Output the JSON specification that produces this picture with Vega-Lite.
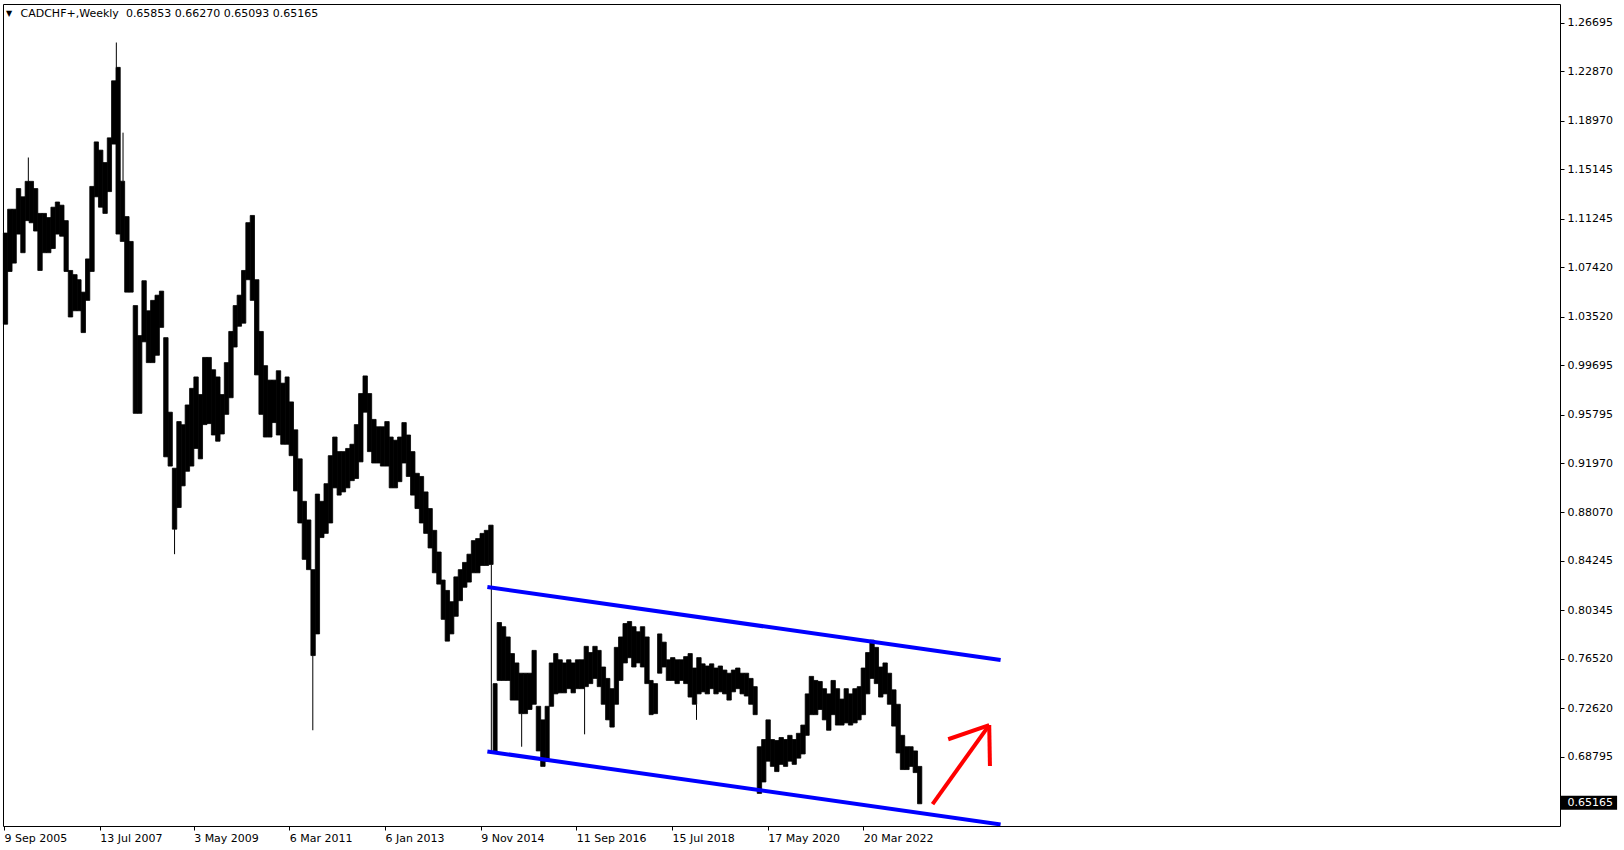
{
"$schema": "https://vega.github.io/schema/vega-lite/v6.json",
"width": 1557, "height": 822,
"autosize": {"type": "none"},
"padding": {"left": 3, "top": 4, "right": 64, "bottom": 24},
"background": "white",
"config": {"view": {"stroke": "black", "strokeWidth": 1}, "font": "DejaVu Sans"},
"datasets": {
"bars": [
{"d":"2005-09","hi":1.1011,"lo":1.0292},{"d":"2005-10","hi":1.1199,"lo":1.0708},{"d":"2005-11","hi":1.1199,"lo":1.0774},{"d":"2005-12","hi":1.1362,"lo":1.1003},
{"d":"2006-01","hi":1.1297,"lo":1.0856},{"d":"2006-02","hi":1.1419,"lo":1.1109},{"d":"2006-03","hi":1.1419,"lo":1.1092},{"d":"2006-04","hi":1.1362,"lo":1.1027},
{"d":"2006-05","hi":1.1166,"lo":1.0716},{"d":"2006-06","hi":1.1166,"lo":1.0856},{"d":"2006-07","hi":1.1133,"lo":1.0856},{"d":"2006-08","hi":1.1215,"lo":1.0889},
{"d":"2006-09","hi":1.1256,"lo":1.1003},{"d":"2006-10","hi":1.1231,"lo":1.0986},{"d":"2006-11","hi":1.1109,"lo":1.0708},{"d":"2006-12","hi":1.0716,"lo":1.0349},
{"d":"2007-01","hi":1.0683,"lo":1.0398},{"d":"2007-02","hi":1.0643,"lo":1.0398},{"d":"2007-03","hi":1.0545,"lo":1.0226},{"d":"2007-04","hi":1.0807,"lo":1.0480},
{"d":"2007-05","hi":1.1379,"lo":1.0708},{"d":"2007-06","hi":1.1730,"lo":1.1297},{"d":"2007-07","hi":1.1665,"lo":1.1215},{"d":"2007-08","hi":1.1567,"lo":1.1166},
{"d":"2007-09","hi":1.1762,"lo":1.1338},{"d":"2007-10","hi":1.2212,"lo":1.1713},{"d":"2007-11","hi":1.2318,"lo":1.1003},{"d":"2007-12","hi":1.1420,"lo":1.0945},
{"d":"2008-01","hi":1.1141,"lo":1.0545},{"d":"2008-02","hi":1.0945,"lo":1.0545},{"d":"2008-03","hi":1.0439,"lo":0.9589},{"d":"2008-04","hi":1.0202,"lo":0.9589},
{"d":"2008-05","hi":1.0635,"lo":1.0153},{"d":"2008-06","hi":1.0398,"lo":0.9989},{"d":"2008-07","hi":1.0480,"lo":0.9989},{"d":"2008-08","hi":1.0521,"lo":1.0047},
{"d":"2008-09","hi":1.0553,"lo":1.0267},{"d":"2008-10","hi":1.0186,"lo":0.9246},{"d":"2008-11","hi":0.9598,"lo":0.9173},{"d":"2008-12","hi":0.9156,"lo":0.8675},
{"d":"2009-01","hi":0.9524,"lo":0.8846},{"d":"2009-02","hi":0.9499,"lo":0.9017},{"d":"2009-03","hi":0.9655,"lo":0.9132},{"d":"2009-04","hi":0.9786,"lo":0.9173},
{"d":"2009-05","hi":0.9876,"lo":0.9312},{"d":"2009-06","hi":0.9737,"lo":0.9230},{"d":"2009-07","hi":1.0030,"lo":0.9500},{"d":"2009-08","hi":1.0030,"lo":0.9508},
{"d":"2009-09","hi":0.9933,"lo":0.9418},{"d":"2009-10","hi":0.9876,"lo":0.9369},{"d":"2009-11","hi":0.9737,"lo":0.9426},{"d":"2009-12","hi":0.9989,"lo":0.9581},
{"d":"2010-01","hi":1.0235,"lo":0.9712},{"d":"2010-02","hi":1.0439,"lo":1.0112},{"d":"2010-03","hi":1.0521,"lo":1.0276},{"d":"2010-04","hi":1.0716,"lo":1.0300},
{"d":"2010-05","hi":1.1093,"lo":1.0643},{"d":"2010-06","hi":1.1150,"lo":1.0480},{"d":"2010-07","hi":1.0643,"lo":0.9892},{"d":"2010-08","hi":1.0235,"lo":0.9581},
{"d":"2010-09","hi":0.9965,"lo":0.9402},{"d":"2010-10","hi":0.9851,"lo":0.9402},{"d":"2010-11","hi":0.9851,"lo":0.9516},{"d":"2010-12","hi":0.9925,"lo":0.9418},
{"d":"2011-01","hi":0.9827,"lo":0.9345},{"d":"2011-02","hi":0.9876,"lo":0.9345},{"d":"2011-03","hi":0.9679,"lo":0.9255},{"d":"2011-04","hi":0.9459,"lo":0.8977},
{"d":"2011-05","hi":0.9230,"lo":0.8724},{"d":"2011-06","hi":0.8895,"lo":0.8437},{"d":"2011-07","hi":0.8748,"lo":0.8356},{"d":"2011-08","hi":0.8356,"lo":0.7678},
{"d":"2011-09","hi":0.8952,"lo":0.7849},{"d":"2011-10","hi":0.8895,"lo":0.8609},{"d":"2011-11","hi":0.9034,"lo":0.8642},{"d":"2011-12","hi":0.9255,"lo":0.8724},
{"d":"2012-01","hi":0.9402,"lo":0.9001},{"d":"2012-02","hi":0.9287,"lo":0.8944},{"d":"2012-03","hi":0.9287,"lo":0.8969},{"d":"2012-04","hi":0.9312,"lo":0.9001},
{"d":"2012-05","hi":0.9345,"lo":0.9058},{"d":"2012-06","hi":0.9500,"lo":0.9075},{"d":"2012-07","hi":0.9745,"lo":0.9206},{"d":"2012-08","hi":0.9884,"lo":0.9598},
{"d":"2012-09","hi":0.9745,"lo":0.9287},{"d":"2012-10","hi":0.9541,"lo":0.9197},{"d":"2012-11","hi":0.9483,"lo":0.9197},{"d":"2012-12","hi":0.9483,"lo":0.9173},
{"d":"2013-01","hi":0.9524,"lo":0.9173},{"d":"2013-02","hi":0.9402,"lo":0.9001},{"d":"2013-03","hi":0.9377,"lo":0.9001},{"d":"2013-04","hi":0.9402,"lo":0.9050},
{"d":"2013-05","hi":0.9516,"lo":0.9197},{"d":"2013-06","hi":0.9418,"lo":0.9091},{"d":"2013-07","hi":0.9287,"lo":0.8944},{"d":"2013-08","hi":0.9116,"lo":0.8838},
{"d":"2013-09","hi":0.9091,"lo":0.8724},{"d":"2013-10","hi":0.8969,"lo":0.8642},{"d":"2013-11","hi":0.8838,"lo":0.8527},{"d":"2013-12","hi":0.8666,"lo":0.8331},
{"d":"2014-01","hi":0.8495,"lo":0.8242},{"d":"2014-02","hi":0.8274,"lo":0.7964},{"d":"2014-03","hi":0.8192,"lo":0.7792},{"d":"2014-04","hi":0.8103,"lo":0.7849},
{"d":"2014-05","hi":0.8299,"lo":0.7988},{"d":"2014-06","hi":0.8356,"lo":0.8111},{"d":"2014-07","hi":0.8413,"lo":0.8217},{"d":"2014-08","hi":0.8478,"lo":0.8258},
{"d":"2014-09","hi":0.8585,"lo":0.8331},{"d":"2014-10","hi":0.8601,"lo":0.8331},{"d":"2014-11","hi":0.8642,"lo":0.8389},{"d":"2014-12","hi":0.8666,"lo":0.8389},
{"d":"2015-01","hi":0.8707,"lo":0.8397},{"d":"2015-02","hi":0.7457,"lo":0.6910},{"d":"2015-03","hi":0.7939,"lo":0.7482},{"d":"2015-04","hi":0.7906,"lo":0.7482},
{"d":"2015-05","hi":0.7825,"lo":0.7482},{"d":"2015-06","hi":0.7694,"lo":0.7327},{"d":"2015-07","hi":0.7620,"lo":0.7327},{"d":"2015-08","hi":0.7539,"lo":0.7220},
{"d":"2015-09","hi":0.7539,"lo":0.7220},{"d":"2015-10","hi":0.7539,"lo":0.7253},{"d":"2015-11","hi":0.7719,"lo":0.7294},{"d":"2015-12","hi":0.7278,"lo":0.6926},
{"d":"2016-01","hi":0.7171,"lo":0.6804},{"d":"2016-02","hi":0.7278,"lo":0.6845},{"d":"2016-03","hi":0.7620,"lo":0.7278},{"d":"2016-04","hi":0.7694,"lo":0.7376},
{"d":"2016-05","hi":0.7645,"lo":0.7384},{"d":"2016-06","hi":0.7620,"lo":0.7384},{"d":"2016-07","hi":0.7645,"lo":0.7417},{"d":"2016-08","hi":0.7620,"lo":0.7384},
{"d":"2016-09","hi":0.7645,"lo":0.7417},{"d":"2016-10","hi":0.7645,"lo":0.7417},{"d":"2016-11","hi":0.7751,"lo":0.7433},{"d":"2016-12","hi":0.7702,"lo":0.7457},
{"d":"2017-01","hi":0.7751,"lo":0.7498},{"d":"2017-02","hi":0.7719,"lo":0.7433},{"d":"2017-03","hi":0.7588,"lo":0.7294},{"d":"2017-04","hi":0.7498,"lo":0.7171},
{"d":"2017-05","hi":0.7417,"lo":0.7114},{"d":"2017-06","hi":0.7743,"lo":0.7294},{"d":"2017-07","hi":0.7825,"lo":0.7482},{"d":"2017-08","hi":0.7931,"lo":0.7620},
{"d":"2017-09","hi":0.7947,"lo":0.7661},{"d":"2017-10","hi":0.7906,"lo":0.7588},{"d":"2017-11","hi":0.7866,"lo":0.7620},{"d":"2017-12","hi":0.7906,"lo":0.7588},
{"d":"2018-01","hi":0.7825,"lo":0.7457},{"d":"2018-02","hi":0.7482,"lo":0.7212},{"d":"2018-03","hi":0.7457,"lo":0.7220},{"d":"2018-04","hi":0.7849,"lo":0.7539},
{"d":"2018-05","hi":0.7784,"lo":0.7588},{"d":"2018-06","hi":0.7645,"lo":0.7482},{"d":"2018-07","hi":0.7662,"lo":0.7482},{"d":"2018-08","hi":0.7645,"lo":0.7457},
{"d":"2018-09","hi":0.7645,"lo":0.7482},{"d":"2018-10","hi":0.7670,"lo":0.7457},{"d":"2018-11","hi":0.7694,"lo":0.7351},{"d":"2018-12","hi":0.7580,"lo":0.7294},
{"d":"2019-01","hi":0.7662,"lo":0.7376},{"d":"2019-02","hi":0.7613,"lo":0.7392},{"d":"2019-03","hi":0.7596,"lo":0.7376},{"d":"2019-04","hi":0.7613,"lo":0.7417},
{"d":"2019-05","hi":0.7580,"lo":0.7376},{"d":"2019-06","hi":0.7596,"lo":0.7392},{"d":"2019-07","hi":0.7564,"lo":0.7376},{"d":"2019-08","hi":0.7539,"lo":0.7327},
{"d":"2019-09","hi":0.7564,"lo":0.7392},{"d":"2019-10","hi":0.7580,"lo":0.7417},{"d":"2019-11","hi":0.7539,"lo":0.7376},{"d":"2019-12","hi":0.7539,"lo":0.7359},
{"d":"2020-01","hi":0.7498,"lo":0.7294},{"d":"2020-02","hi":0.7433,"lo":0.7212},{"d":"2020-03","hi":0.6959,"lo":0.6591},{"d":"2020-04","hi":0.7016,"lo":0.6681},
{"d":"2020-05","hi":0.7171,"lo":0.6845},{"d":"2020-06","hi":0.7016,"lo":0.6804},{"d":"2020-07","hi":0.7008,"lo":0.6763},{"d":"2020-08","hi":0.7032,"lo":0.6820},
{"d":"2020-09","hi":0.7016,"lo":0.6804},{"d":"2020-10","hi":0.7049,"lo":0.6845},{"d":"2020-11","hi":0.7016,"lo":0.6820},{"d":"2020-12","hi":0.7065,"lo":0.6869},
{"d":"2021-01","hi":0.7130,"lo":0.6902},{"d":"2021-02","hi":0.7376,"lo":0.7049},{"d":"2021-03","hi":0.7514,"lo":0.7212},{"d":"2021-04","hi":0.7482,"lo":0.7212},
{"d":"2021-05","hi":0.7474,"lo":0.7253},{"d":"2021-06","hi":0.7417,"lo":0.7171},{"d":"2021-07","hi":0.7376,"lo":0.7089},{"d":"2021-08","hi":0.7482,"lo":0.7212},
{"d":"2021-09","hi":0.7417,"lo":0.7130},{"d":"2021-10","hi":0.7335,"lo":0.7130},{"d":"2021-11","hi":0.7417,"lo":0.7147},{"d":"2021-12","hi":0.7376,"lo":0.7130},
{"d":"2022-01","hi":0.7417,"lo":0.7147},{"d":"2022-02","hi":0.7433,"lo":0.7171},{"d":"2022-03","hi":0.7580,"lo":0.7212},{"d":"2022-04","hi":0.7702,"lo":0.7376},
{"d":"2022-05","hi":0.7800,"lo":0.7498},{"d":"2022-06","hi":0.7743,"lo":0.7457},{"d":"2022-07","hi":0.7588,"lo":0.7351},{"d":"2022-08","hi":0.7620,"lo":0.7376},
{"d":"2022-09","hi":0.7539,"lo":0.7294},{"d":"2022-10","hi":0.7408,"lo":0.7122},{"d":"2022-11","hi":0.7294,"lo":0.6910},{"d":"2022-12","hi":0.7049,"lo":0.6779},
{"d":"2023-01","hi":0.6959,"lo":0.6779},{"d":"2023-02","hi":0.6959,"lo":0.6804},{"d":"2023-03","hi":0.6926,"lo":0.6755},{"d":"2023-04","hi":0.6804,"lo":0.6509}
],
"wicks": [
{"d":"2006-02-27","hi":1.1607,"lo":1.1419},{"d":"2007-11-07","hi":1.2514,"lo":1.2318},{"d":"2007-12-24","hi":1.1803,"lo":1.1420},
{"d":"2008-12-20","hi":0.8675,"lo":0.8478},{"d":"2011-08-18","hi":0.7678,"lo":0.7089},{"d":"2015-01-23","hi":0.8397,"lo":0.6910},
{"d":"2015-08-24","hi":0.7220,"lo":0.6959},{"d":"2016-11-08","hi":0.7433,"lo":0.7057},{"d":"2019-01-03","hi":0.7294,"lo":0.7171}
],
"channel": [
{"g":"upper","d":"2014-12-26","p":0.8219},{"g":"upper","d":"2024-11-08","p":0.7643},
{"g":"lower","d":"2014-12-26","p":0.6922},{"g":"lower","d":"2024-11-08","p":0.6346}
],
"arrow": [
{"g":"shaft","d":"2023-07-19","p":0.6507},{"g":"shaft","d":"2024-08-20","p":0.7130},
{"g":"barb1","d":"2023-11-06","p":0.7018},{"g":"barb1","d":"2024-08-20","p":0.7130},
{"g":"barb2","d":"2024-08-20","p":0.7130},{"g":"barb2","d":"2024-08-25","p":0.6807}
],
"header": [{"label":"CADCHF+,Weekly\u00a0 0.65853 0.66270 0.65093 0.65165"}],
"marker": [{"label":"▼"}]
},
"layer": [
{"data": {"name": "bars"},
 "mark": {"type": "bar", "color": "black", "binSpacing": 0, "stroke": "black", "strokeWidth": 0.8},
 "encoding": {
  "x": {"field": "d", "type": "temporal", "timeUnit": "utcyearmonth",
   "scale": {"type": "utc", "nice": false, "domain": [{"year":2005,"month":9,"date":2,"utc":true},{"year":2035,"month":8,"date":12,"utc":true}]},
   "axis": {"title": null, "orient": "bottom", "grid": false, "domain": false, "ticks": true, "tickSize": 4, "tickColor": "black",
    "values": [{"year":2005,"month":9,"date":9,"utc":true},{"year":2007,"month":7,"date":13,"utc":true},{"year":2009,"month":5,"date":3,"utc":true},{"year":2011,"month":3,"date":6,"utc":true},{"year":2013,"month":1,"date":6,"utc":true},{"year":2014,"month":11,"date":9,"utc":true},{"year":2016,"month":9,"date":11,"utc":true},{"year":2018,"month":7,"date":15,"utc":true},{"year":2020,"month":5,"date":17,"utc":true},{"year":2022,"month":3,"date":20,"utc":true}],
    "format": "%-d %b %Y", "labelAlign": "left", "labelBaseline": "top", "labelPadding": 2, "labelFont": "DejaVu Sans", "labelFontSize": 11, "labelColor": "black", "labelOverlap": false, "labelBound": false, "labelFlush": false}},
  "y": {"field": "hi", "type": "quantitative",
   "scale": {"domain": [0.63338, 1.28179], "nice": false, "zero": false},
   "axis": {"title": null, "orient": "right", "grid": false, "domain": false, "ticks": true, "tickSize": 4, "tickColor": "black", "zindex": 1,
    "values": [1.26695, 1.2287, 1.1897, 1.15145, 1.11245, 1.0742, 1.0352, 0.99695, 0.95795, 0.9197, 0.8807, 0.84245, 0.80345, 0.7652, 0.7262, 0.68795, 0.65165],
    "format": ".5f", "labelFont": "DejaVu Sans", "labelFontSize": 11, "labelPadding": 3, "labelBaseline": "middle", "labelOverlap": false, "labelBound": false, "labelFlush": false,
    "labelColor": {"condition": {"test": "datum.value < 0.66", "value": "white"}, "value": "black"}}},
  "y2": {"field": "lo"}}},
{"data": {"name": "wicks"},
 "mark": {"type": "rule", "color": "black", "strokeWidth": 1},
 "encoding": {"x": {"field": "d", "type": "temporal"}, "y": {"field": "hi", "type": "quantitative"}, "y2": {"field": "lo"}}},
{"data": {"name": "channel"},
 "mark": {"type": "line", "color": "#0000FF", "strokeWidth": 4, "strokeCap": "butt", "clip": true},
 "encoding": {"x": {"field": "d", "type": "temporal"}, "y": {"field": "p", "type": "quantitative"}, "detail": {"field": "g"}}},
{"data": {"name": "arrow"},
 "mark": {"type": "line", "color": "#FF0000", "strokeWidth": 4, "strokeCap": "butt", "strokeJoin": "miter"},
 "encoding": {"x": {"field": "d", "type": "temporal"}, "y": {"field": "p", "type": "quantitative"}, "detail": {"field": "g"}}},
{"data": {"values": [{}]},
 "mark": {"type": "rect", "color": "black"},
 "encoding": {"x": {"datum": {"year":2035,"month":8,"date":12,"utc":true}, "type": "temporal"}, "x2": {"datum": {"year":2036,"month":9,"date":16,"utc":true}},
  "y": {"datum": 0.6572, "type": "quantitative"}, "y2": {"datum": 0.6461}}},
{"data": {"name": "marker"},
 "mark": {"type": "text", "align": "left", "baseline": "alphabetic", "font": "DejaVu Sans", "fontSize": 8, "color": "black"},
 "encoding": {"x": {"datum": {"year":2005,"month":9,"date":23,"utc":true}, "type": "temporal"}, "y": {"datum": 1.2727, "type": "quantitative"}, "text": {"field": "label"}}},
{"data": {"name": "header"},
 "mark": {"type": "text", "align": "left", "baseline": "alphabetic", "font": "DejaVu Sans", "fontSize": 11, "color": "black"},
 "encoding": {"x": {"datum": {"year":2006,"month":1,"date":3,"utc":true}, "type": "temporal"}, "y": {"datum": 1.2719, "type": "quantitative"}, "text": {"field": "label"}}}
]
}
